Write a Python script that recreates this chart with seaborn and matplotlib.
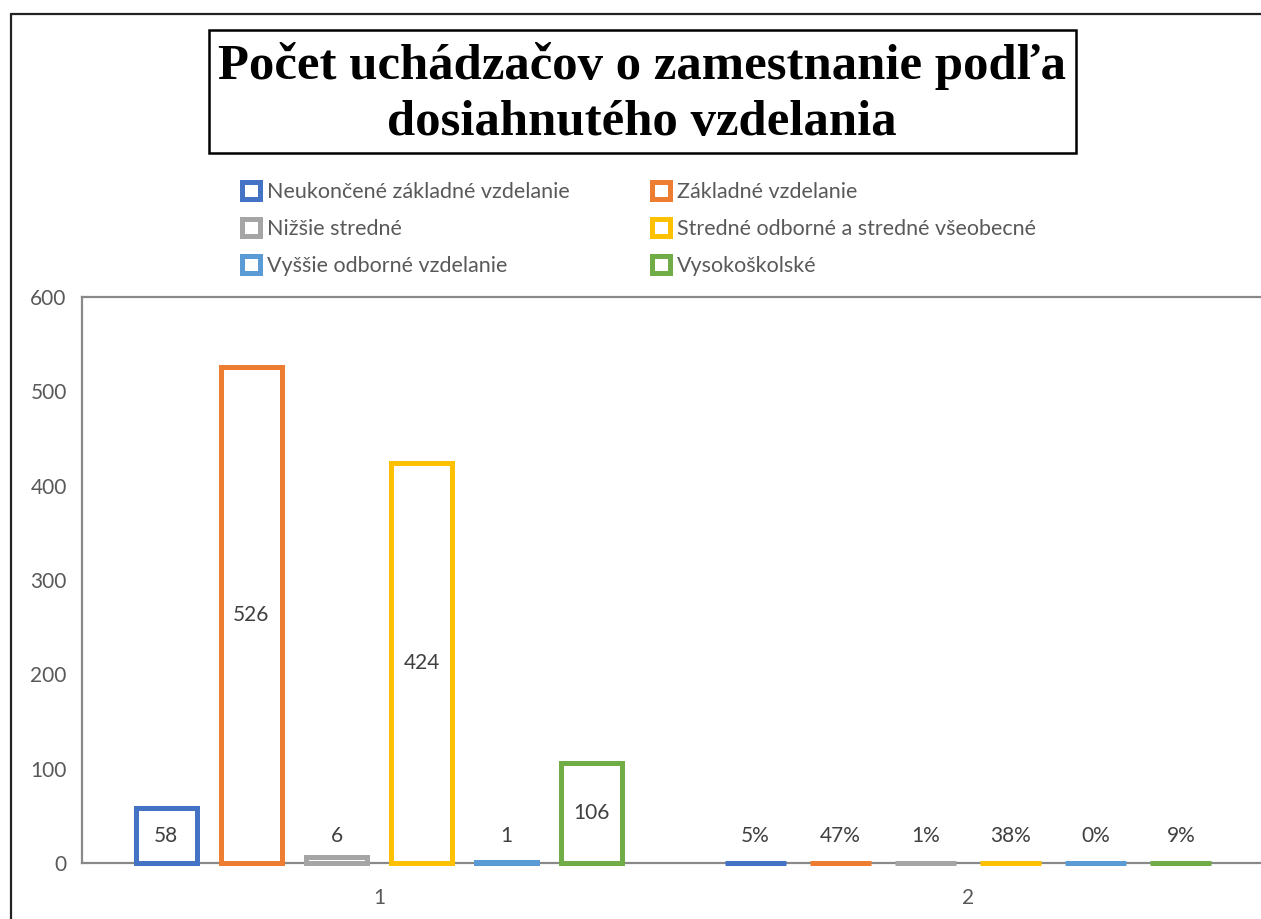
import matplotlib
matplotlib.use("Agg")
import matplotlib.pyplot as plt
import seaborn as sns
import pandas as pd
from matplotlib.lines import Line2D
from matplotlib.patches import Rectangle

# ---- data ----
categories = ["1", "2"]
series = ["Neukončené základné vzdelanie", "Základné vzdelanie", "Nižšie stredné",
          "Stredné odborné a stredné všeobecné", "Vyššie odborné vzdelanie", "Vysokoškolské"]
counts = [58, 526, 6, 424, 1, 106]
shares = [0.05, 0.47, 0.01, 0.38, 0.00, 0.09]
yticks = [0, 100, 200, 300, 400, 500, 600]
colors = ["#4472C4", "#ED7D31", "#A5A5A5", "#FFC000", "#5B9BD5", "#70AD47"]
title = "Počet uchádzačov o zamestnanie podľa\ndosiahnutého vzdelania"

rows = []
for s, c, p in zip(series, counts, shares):
    rows.append({"cat": categories[0], "series": s, "value": c})
    rows.append({"cat": categories[1], "series": s, "value": p})
df = pd.DataFrame(rows)

sns.set_theme(style="white")
plt.rcParams["font.family"] = ["Lato", "DejaVu Sans"]

W, H = 1261, 919
fig = plt.figure(figsize=(W / 100, H / 100), dpi=100)
fig.patch.set_facecolor("white")

def fx(px):
    return px / W

def fy(py):
    return 1 - py / H

ax = fig.add_axes([fx(82), fy(863), 1 - fx(82), fy(297) - fy(863)])
sns.barplot(data=df, x="cat", y="value", hue="series", hue_order=series,
            order=categories, palette=colors, fill=False, linewidth=3.6,
            width=0.866, gap=0.28, errorbar=None, legend=True, ax=ax)

ax.set_xlim(-0.504, 1.497)
ax.set_ylim(0, 600)
ax.set_yticks(yticks)
ax.set_xlabel("")
ax.set_ylabel("")
ax.tick_params(axis="both", length=0, colors="#595959", labelsize=15)
ax.tick_params(axis="x", pad=18)
ax.tick_params(axis="y", pad=11)
for side in ["left", "top", "bottom"]:
    ax.spines[side].set_color("#898989")
    ax.spines[side].set_linewidth(1.6)
    ax.spines[side].set_zorder(1)
ax.spines["right"].set_visible(False)
ax.grid(False)
for p in ax.patches:
    p.set_zorder(3)
    p.set_clip_on(False)

# data labels
for i, cont in enumerate(ax.containers):
    for j, bar in enumerate(cont):
        v = counts[i] if j == 0 else shares[i]
        txt = f"{v:d}" if j == 0 else f"{v:.0%}"
        y = max(bar.get_height() / 2, 29)
        ax.text(bar.get_x() + bar.get_width() / 2, y, txt, ha="center", va="center",
                fontsize=15, color="#404040")

# legend (row-major order in two columns -> two column legends)
handles, labels = ax.get_legend_handles_labels()
ax.get_legend().remove()
leg_kw = dict(loc="upper left", frameon=False, fontsize=15.5, handlelength=0.85,
              handleheight=0.85, handletextpad=0.3, labelspacing=0.78,
              borderpad=0, borderaxespad=0)
for col, xpx in ((0, 242), (1, 652)):
    idx = [col, col + 2, col + 4]
    leg = fig.legend([handles[k] for k in idx], [labels[k] for k in idx],
                     bbox_to_anchor=(fx(xpx), fy(182)), **leg_kw)
    for t in leg.get_texts():
        t.set_color("#595959")

# title box
fig.add_artist(Rectangle((fx(209), fy(153)), fx(1076) - fx(209), fy(30) - fy(153),
                         transform=fig.transFigure, fill=False, edgecolor="black",
                         linewidth=1.8))
fig.text(fx(642), fy(94), title, ha="center", va="center", fontsize=36.5,
         fontweight="bold", family="Liberation Serif", color="black", linespacing=1.3)

# outer chart border (left and top visible)
fig.add_artist(Line2D([fx(11), fx(11)], [0, fy(14)], transform=fig.transFigure,
                      color="#222222", linewidth=1.6))
fig.add_artist(Line2D([fx(11), 1], [fy(14), fy(14)], transform=fig.transFigure,
                      color="#222222", linewidth=1.6))

fig.savefig("out.png", dpi=100)
